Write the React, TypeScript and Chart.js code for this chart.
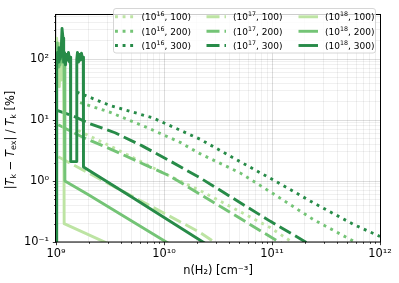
import React, { useEffect, useRef } from 'react';
import { Chart, registerables } from 'chart.js';

Chart.register(...registerables);

const FONT = '"DejaVu Sans", sans-serif';

// legend / series identity
const columnDensityExps = [16, 17, 18];
const temperatures = [100, 200, 300];
const seriesColors = ['#bde4a3', '#74c476', '#278b48'];
const lineDashes: number[][] = [[2.9, 4.7], [13, 5], []];

// axis limits
const xMin = 1e9;
const xMax = 1e12;
const yMin = 0.1;
const yMax = 550;

// (10^16, T) dotted
const n16_100 = [1.6e9, 3.16e9, 9.18e9, 2.15e10, 9.58e10, 1.6e11];
const v16_100 = [6.72, 3.76, 1.44, 0.7, 0.173, 0.095];
const n16_200 = [1.67e9, 3.16e9, 7.11e9, 1.41e10, 2.15e10, 5.06e10, 1.03e11, 2.41e11, 6.2e11];
const v16_200 = [19.3, 13.4, 7.41, 4.3, 2.81, 1.36, 0.617, 0.234, 0.095];
const n16_300 = [1.555e9, 3.16e9, 7.91e9, 2.15e10, 5.06e10, 1.07e11, 2.41e11, 5.66e11, 1e12];
const v16_300 = [28.8, 17.3, 10.8, 4.85, 2.08, 1.0, 0.44, 0.195, 0.123];

// (10^17, T) dashed
const n17_100 = [1.05e9, 2.15e10, 3.05e10];
const v17_100 = [2.49, 0.144, 0.095];
const n17_200 = [1.05e9, 1.79e9, 3.16e9, 1.14e10, 2.15e10, 1.22e11];
const v17_200 = [8.36, 5.15, 3.37, 1.2, 0.61, 0.095];
const n17_300 = [1.02e9, 1.5e9, 1.99e9, 3.52e9, 6.22e9, 1.1e10, 2.15e10, 9.58e10, 2.15e11];
const v17_300 = [14.4, 11.3, 8.89, 6.18, 3.8, 2.2, 1.13, 0.22, 0.095];

// (10^18, T) solid
const n18_100 = [1.0e9, 1.006e9, 1.021e9, 1.039e9, 1.055e9, 1.073e9, 1.094e9, 1.112e9, 1.137e9, 1.161e9, 1.18e9, 1.19e9, 3.0e9];
const v18_100 = [0.02, 128, 220, 60, 184, 35, 153, 45, 128, 80, 107, 0.2, 0.095];
const n18_200 = [1.0e9, 1.011e9, 1.028e9, 1.044e9, 1.066e9, 1.089e9, 1.112e9, 1.137e9, 1.161e9, 1.186e9, 1.206e9, 1.211e9, 1.98e9, 1.1e10];
const v18_200 = [0.02, 107, 184, 74, 142, 80, 133, 89, 114, 85, 99, 1.0, 0.601, 0.095];
const n18_300 = [1.0e9, 1.015e9, 1.032e9, 1.05e9, 1.066e9, 1.089e9, 1.112e9, 1.137e9, 1.161e9, 1.178e9, 1.199e9, 1.224e9, 1.251e9, 1.278e9, 1.305e9, 1.334e9, 1.362e9, 1.368e9, 1.555e9, 1.558e9, 1.581e9, 1.615e9, 1.65e9, 1.686e9, 1.722e9, 1.759e9, 1.789e9, 1.797e9, 5.02e9, 2.4e10];
const v18_300 = [0.02, 74, 128, 89, 153, 99, 114, 317, 220, 89, 128, 80, 119, 96, 128, 89, 107, 2.08, 2.08, 99, 128, 89, 119, 96, 124, 99, 107, 1.69, 0.547, 0.095];

const seriesN = [n16_100, n16_200, n16_300, n17_100, n17_200, n17_300, n18_100, n18_200, n18_300];
const seriesV = [v16_100, v16_200, v16_300, v17_100, v17_200, v17_300, v18_100, v18_200, v18_300];

const SUP: Record<string, string> = { '-': '⁻', '0': '⁰', '1': '¹', '2': '²', '3': '³', '4': '⁴', '5': '⁵', '6': '⁶', '7': '⁷', '8': '⁸', '9': '⁹' };
const supStr = (s: string) => s.split('').map((c) => SUP[c] ?? c).join('');
const isMajor = (v: number) => Math.abs(Math.log10(v) - Math.round(Math.log10(v))) < 1e-6;
const powLabel = (v: number) => '10' + supStr(String(Math.round(Math.log10(v))));

function logTicks(min: number, max: number) {
  const out: { value: number }[] = [];
  const e0 = Math.floor(Math.log10(min));
  const e1 = Math.ceil(Math.log10(max));
  for (let e = e0; e <= e1; e++) {
    for (let m = 1; m <= 9; m++) {
      const v = parseFloat((m * Math.pow(10, e)).toPrecision(6));
      if (v >= min * (1 - 1e-9) && v <= max * (1 + 1e-9)) out.push({ value: v });
    }
  }
  return out;
}

type Part = { t: string; it?: boolean; sub?: boolean; sup?: boolean };

function drawRich(ctx: CanvasRenderingContext2D, parts: Part[], x: number, yMid: number, fs: number, align: 'left' | 'center') {
  const fontOf = (p: Part) => {
    const size = p.sub || p.sup ? fs * 0.7 : fs;
    return `${p.it ? 'italic ' : ''}${size}px ${FONT}`;
  };
  let total = 0;
  const widths = parts.map((p) => {
    ctx.font = fontOf(p);
    const w = ctx.measureText(p.t).width;
    total += w;
    return w;
  });
  let cx = align === 'center' ? x - total / 2 : x;
  const base = yMid + 0.36 * fs;
  ctx.textBaseline = 'alphabetic';
  ctx.textAlign = 'left';
  parts.forEach((p, i) => {
    ctx.font = fontOf(p);
    let by = base;
    if (p.sup) by = base - 0.42 * fs;
    if (p.sub) by = base + 0.2 * fs;
    ctx.fillText(p.t, cx, by);
    cx += widths[i];
  });
}

const yTitleParts: Part[] = [
  { t: '|' },
  { t: 'T', it: true },
  { t: 'k', sub: true },
  { t: ' − ' },
  { t: 'T', it: true },
  { t: 'ex', sub: true },
  { t: '| / ' },
  { t: 'T', it: true },
  { t: 'k', sub: true },
  { t: ' [%]' },
];

const framePlugin = {
  id: 'frame',
  afterDatasetsDraw(chart: any) {
    const { ctx, chartArea: a, scales } = chart;
    const xs = scales.x;
    const ys = scales.y;
    ctx.save();
    ctx.strokeStyle = '#000';
    ctx.lineWidth = 0.8;
    ctx.beginPath();
    for (const t of xs.ticks) {
      const px = Math.round(xs.getPixelForValue(t.value)) + 0.5;
      const len = isMajor(t.value) ? 3.2 : 1.8;
      ctx.moveTo(px, a.bottom);
      ctx.lineTo(px, a.bottom + len);
    }
    for (const t of ys.ticks) {
      const py = Math.round(ys.getPixelForValue(t.value)) + 0.5;
      const len = isMajor(t.value) ? 3.2 : 1.8;
      ctx.moveTo(a.left, py);
      ctx.lineTo(a.left - len, py);
    }
    ctx.stroke();
    ctx.lineWidth = 1;
    ctx.strokeRect(Math.round(a.left) - 0.5, Math.round(a.top) + 0.5, Math.round(a.right - a.left) + 1, Math.round(a.bottom - a.top) - 0.5);
    ctx.restore();
  },
};

const legendPlugin = {
  id: 'customLegend',
  afterDraw(chart: any) {
    const ctx: CanvasRenderingContext2D = chart.ctx;
    ctx.save();
    const bx = 113.5, by = 8.5, bw = 262, bh = 44.5, r = 2.5;
    ctx.beginPath();
    ctx.moveTo(bx + r, by);
    ctx.arcTo(bx + bw, by, bx + bw, by + bh, r);
    ctx.arcTo(bx + bw, by + bh, bx, by + bh, r);
    ctx.arcTo(bx, by + bh, bx, by, r);
    ctx.arcTo(bx, by, bx + bw, by, r);
    ctx.closePath();
    ctx.fillStyle = 'rgba(255,255,255,0.8)';
    ctx.fill();
    ctx.strokeStyle = '#cccccc';
    ctx.lineWidth = 0.8;
    ctx.stroke();
    const colX = [115, 206.5, 298.5];
    const rowY = [16.8, 31.3, 45.5];
    chart.data.datasets.forEach((ds: any, i: number) => {
      const c = Math.floor(i / 3);
      const rr = i % 3;
      const x0 = colX[c];
      const y0 = rowY[rr];
      ctx.beginPath();
      ctx.setLineDash(ds.borderDash || []);
      ctx.lineDashOffset = 0;
      ctx.lineCap = 'butt';
      ctx.strokeStyle = ds.borderColor;
      ctx.lineWidth = ds.borderWidth;
      ctx.moveTo(x0, y0);
      ctx.lineTo(x0 + 19.5, y0);
      ctx.stroke();
      ctx.setLineDash([]);
      ctx.fillStyle = '#000';
      drawRich(ctx, [
        { t: '(10' },
        { t: String(columnDensityExps[c]), sup: true },
        { t: ', ' + temperatures[rr] + ')' },
      ], x0 + 26.5, y0, 9, 'left');
    });
    // y-axis title
    ctx.save();
    ctx.translate(10, 140);
    ctx.rotate(-Math.PI / 2);
    ctx.fillStyle = '#000';
    drawRich(ctx, yTitleParts, 0, 0, 11.4, 'center');
    ctx.restore();
    ctx.restore();
  },
};

export default function App() {
  const ref = useRef<HTMLCanvasElement | null>(null);
  useEffect(() => {
    if (!ref.current) return;
    Chart.defaults.font.family = FONT;
    const datasets: any[] = [];
    columnDensityExps.forEach((exp, c) => {
      temperatures.forEach((T, r) => {
        const idx = c * 3 + r;
        datasets.push({
          label: `(10${supStr(String(exp))}, ${T})`,
          data: seriesN[idx].map((x, k) => ({ x, y: seriesV[idx][k] })),
          borderColor: seriesColors[r],
          backgroundColor: seriesColors[r],
          borderWidth: 2.9,
          borderDash: lineDashes[c],
          borderJoinStyle: 'round',
          borderCapStyle: 'butt',
          pointRadius: 0,
          pointHoverRadius: 0,
          fill: false,
          tension: 0,
          clip: 0,
          order: 8 - idx,
        });
      });
    });
    const gridColor = (c: any) => (c.tick && isMajor(c.tick.value) ? 'rgba(0,0,0,0.17)' : 'rgba(0,0,0,0.08)');
    const chart = new Chart(ref.current, {
      type: 'line',
      data: { datasets },
      options: {
        animation: false,
        responsive: false,
        devicePixelRatio: 1,
        layout: { padding: { left: 0, right: 19, top: 5, bottom: 0 } },
        plugins: { legend: { display: false }, tooltip: { enabled: false }, title: { display: false } },
        scales: {
          x: {
            type: 'logarithmic',
            min: xMin,
            max: xMax,
            afterBuildTicks: (s: any) => { s.ticks = logTicks(xMin, xMax); },
            afterFit: (s: any) => { s.height = 41; },
            ticks: {
              autoSkip: false,
              maxRotation: 0,
              minRotation: 0,
              padding: 5,
              color: '#000',
              font: { family: FONT, size: 11.4 },
              callback: (v: any) => (isMajor(Number(v)) ? powLabel(Number(v)) : ''),
            },
            grid: { color: gridColor, lineWidth: 0.8, drawTicks: false },
            border: { display: false },
            title: {
              display: true,
              text: 'n(H₂) [cm⁻³]',
              color: '#000',
              font: { family: FONT, size: 11.4 },
              padding: { top: 0, bottom: 5 },
            },
          },
          y: {
            type: 'logarithmic',
            min: yMin,
            max: yMax,
            afterBuildTicks: (s: any) => { s.ticks = logTicks(yMin, yMax); },
            afterFit: (s: any) => { s.width = 56; },
            ticks: {
              autoSkip: false,
              padding: 7,
              color: '#000',
              font: { family: FONT, size: 11.4 },
              callback: (v: any) => (isMajor(Number(v)) ? powLabel(Number(v)) : ''),
            },
            grid: { color: gridColor, lineWidth: 0.8, drawTicks: false },
            border: { display: false },
          },
        },
      } as any,
      plugins: [framePlugin, legendPlugin],
    });
    return () => chart.destroy();
  }, []);
  return (
    <div style={{ position: 'fixed', left: 0, top: 0, width: 399, height: 283, background: '#fff' }}>
      <canvas ref={ref} width={399} height={283} style={{ width: 399, height: 283, display: 'block' }} />
    </div>
  );
}
